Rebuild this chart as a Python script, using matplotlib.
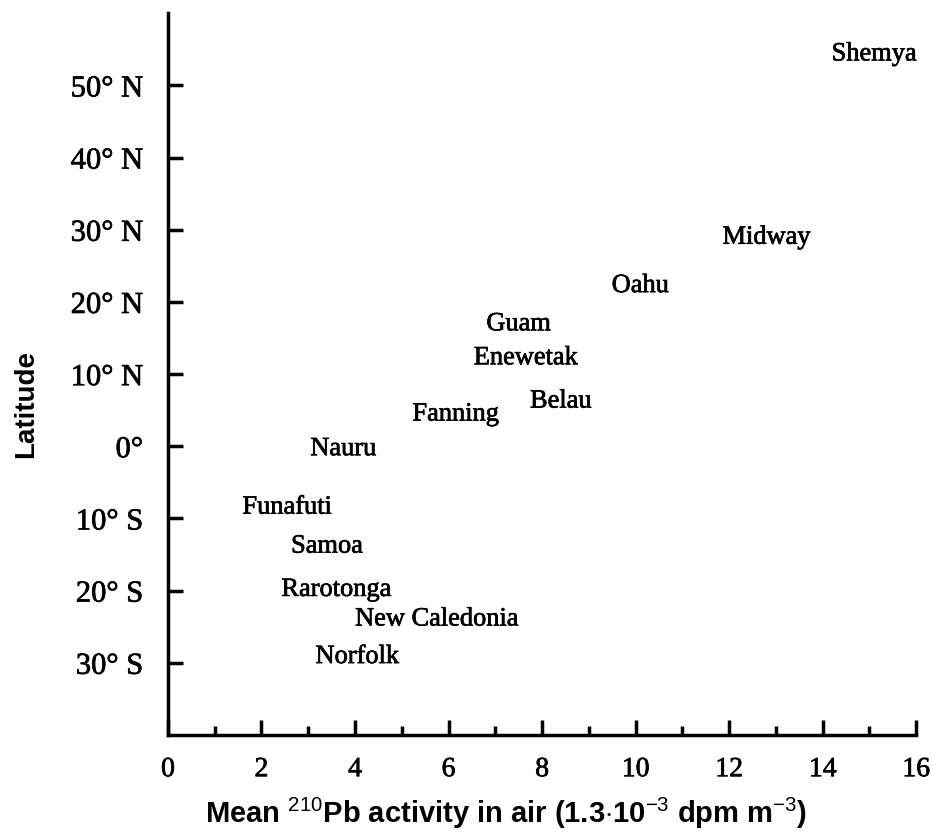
import matplotlib; matplotlib.use('Agg')
import matplotlib.pyplot as plt
import matplotlib.patheffects as pe

# station names, mean 210Pb activity (x) and latitude (y, deg; negative = south)
stations = ['Shemya', 'Midway', 'Oahu', 'Guam', 'Enewetak', 'Belau', 'Fanning',
            'Nauru', 'Funafuti', 'Samoa', 'Rarotonga', 'New Caledonia', 'Norfolk']
activity = [15.1, 12.8, 10.1, 7.5, 7.65, 8.4, 6.15, 3.75, 2.55, 3.4, 3.6, 5.75, 4.05]
latitude = [54.3, 28.9, 22.2, 16.9, 12.2, 6.2, 4.4, -0.4, -8.5, -13.9, -19.9, -24.0, -29.2]

lat_ticks = [-30, -20, -10, 0, 10, 20, 30, 40, 50]
lat_labels = ['30° S', '20° S', '10° S', '0°', '10° N', '20° N', '30° N', '40° N', '50° N']

plt.rcParams['mathtext.fontset'] = 'custom'
plt.rcParams['mathtext.rm'] = 'Liberation Sans'

heavy = [pe.withStroke(linewidth=0.5, foreground='black')]

fig = plt.figure(figsize=(9.33, 8.32), dpi=100)
ax = fig.add_axes([0.18, 0.1166, 0.802, 0.8674])

for name, x, y in zip(stations, activity, latitude):
    ax.text(x, y, name, ha='center', va='center', family='Liberation Serif',
            fontsize=19, path_effects=heavy)

ax.set_xlim(0, 16)
ax.set_ylim(-40, 60)
ax.set_xticks(range(0, 17, 2))
ax.set_xticks(range(1, 16, 2), minor=True)
ax.set_yticks(lat_ticks)
ax.set_yticklabels(lat_labels)

for lbl in ax.get_xticklabels():
    lbl.set_family('Liberation Serif')
    lbl.set_fontsize(20)
    lbl.set_path_effects(heavy)
for lbl in ax.get_yticklabels():
    lbl.set_family('Liberation Serif')
    lbl.set_fontsize(22)
    lbl.set_path_effects(heavy)

ax.tick_params(which='major', direction='in', length=11, width=2.5)
ax.tick_params(which='minor', direction='in', length=6.5, width=2.5)
ax.tick_params(axis='x', pad=16)
ax.tick_params(axis='y', pad=18)

ax.spines['top'].set_visible(False)
ax.spines['right'].set_visible(False)
ax.spines['left'].set_linewidth(2.5)
ax.spines['bottom'].set_linewidth(2.5)

ax.set_xlabel(r'Mean $^{210}$Pb activity in air (1.3$\cdot$10$^{-3}$ dpm m$^{-3}$)',
              family='Liberation Sans', fontweight='bold', fontsize=21)
ax.xaxis.set_label_coords(0.452, -0.084)
ax.set_ylabel('Latitude', family='Liberation Sans', fontweight='bold', fontsize=20)
ax.yaxis.set_label_coords(-0.172, 0.458)

plt.savefig('out.png', dpi=100)
